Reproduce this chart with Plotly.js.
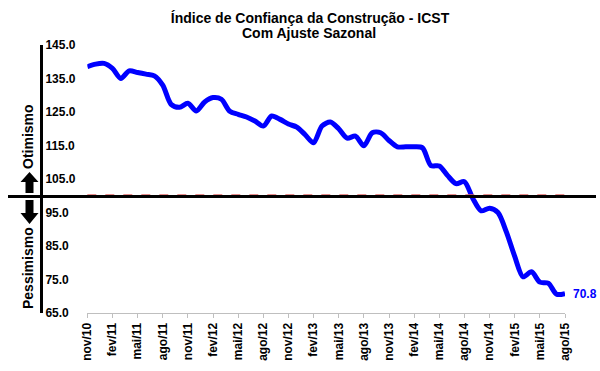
<!DOCTYPE html>
<html>
<head>
<meta charset="utf-8">
<script src="https://cdn.plot.ly/plotly-3.0.1.min.js"></script>
<style>html,body{margin:0;padding:0;background:#fff;}#chart{width:600px;height:371px;}</style>
</head>
<body>
<div id="chart"></div>
<script>
var months = [
  "nov/10","dez/10","jan/11","fev/11","mar/11","abr/11","mai/11","jun/11","jul/11","ago/11","set/11","out/11",
  "nov/11","dez/11","jan/12","fev/12","mar/12","abr/12","mai/12","jun/12","jul/12","ago/12","set/12","out/12",
  "nov/12","dez/12","jan/13","fev/13","mar/13","abr/13","mai/13","jun/13","jul/13","ago/13","set/13","out/13",
  "nov/13","dez/13","jan/14","fev/14","mar/14","abr/14","mai/14","jun/14","jul/14","ago/14","set/14","out/14",
  "nov/14","dez/14","jan/15","fev/15","mar/15","abr/15","mai/15","jun/15","jul/15","ago/15"
];
var icst = [
  138.5,139.3,139.5,138.0,135.0,137.3,136.8,136.3,135.8,133.0,127.3,126.4,
  127.6,125.3,128.0,129.3,128.8,125.2,124.3,123.5,122.3,120.8,123.8,122.8,
  121.4,120.5,118.2,115.8,120.8,122.0,120.0,117.2,117.8,114.9,118.8,118.8,
  116.5,114.6,114.6,114.6,114.3,109.0,108.9,106.0,103.6,104.2,99.2,95.5,
  96.3,95.0,89.2,81.9,75.8,77.3,74.2,73.9,70.6,70.8
];
var tickLabels = months.filter(function(m, i){ return i % 3 === 0; });
var neutral = 100;
var yTicks = [65,75,85,95,105,115,125,135,145];

var W = 600, plotTop = 45, plotBottom = 313;
function px(p){ return p / W; }
function py(p){ return (plotBottom - p) / (plotBottom - plotTop); }
function pathOf(pts){
  return 'M' + pts.map(function(q){ return px(q[0]) + ',' + py(q[1]); }).join(' L') + ' Z';
}

var FONT = 'Liberation Sans, Arial, sans-serif';

var trace = {
  x: months, y: icst, type: 'scatter', mode: 'lines',
  line: {color: '#0000ff', width: 5, shape: 'spline', smoothing: 0.8},
  cliponaxis: false, hoverinfo: 'x+y'
};

var layout = {
  width: 600, height: 371,
  margin: {l: 0, r: 0, t: plotTop, b: 371 - plotBottom, pad: 0},
  paper_bgcolor: '#ffffff', plot_bgcolor: '#ffffff',
  showlegend: false,
  title: {
    text: '<b>Índice de Confiança da Construção - ICST</b>',
    font: {family: FONT, size: 14, color: '#000'},
    x: 310 / W, xanchor: 'center', xref: 'container',
    y: 1 - 18 / 371, yanchor: 'middle', yref: 'container'
  },
  xaxis: {
    type: 'category', domain: [87.3 / W, 565 / W], range: [0, months.length - 1],
    tickmode: 'array', tickvals: tickLabels, ticktext: tickLabels, tickangle: -90,
    tickfont: {family: FONT, size: 12, color: '#000', weight: 'bold'},
    showline: true, linecolor: '#bfbfbf', linewidth: 1,
    ticks: 'outside', ticklen: 4, tickcolor: '#bfbfbf', tickwidth: 1,
    showgrid: false, zeroline: false, anchor: 'y', fixedrange: true
  },
  yaxis: {
    range: [65, 145], tickmode: 'array', tickvals: yTicks,
    ticktext: yTicks.map(function(v){ return v.toFixed(1); }),
    anchor: 'free', position: 41 / W, side: 'right',
    showline: true, linecolor: '#000', linewidth: 3,
    ticks: '', showgrid: false, zeroline: false,
    tickfont: {family: FONT, size: 12, color: '#000', weight: 'bold'},
    fixedrange: true
  },
  shapes: [
    {type: 'line', xref: 'x domain', x0: 0, x1: 1.008, yref: 'y', y0: neutral + 0.25, y1: neutral + 0.25,
     line: {color: '#e06666', width: 1.5, dash: 'dash'}},
    {type: 'line', xref: 'paper', x0: px(8), x1: px(596), yref: 'y', y0: neutral - 0.2, y1: neutral - 0.2,
     line: {color: '#000', width: 3}},
    {type: 'path', xref: 'paper', yref: 'paper', fillcolor: '#000', line: {width: 0},
     path: pathOf([[29.5,172],[38.5,182],[33.5,182],[33.5,193],[25.5,193],[25.5,182],[20.5,182]])},
    {type: 'path', xref: 'paper', yref: 'paper', fillcolor: '#000', line: {width: 0},
     path: pathOf([[29.5,224],[38.5,213],[33.5,213],[33.5,200],[25.5,200],[25.5,213],[20.5,213]])}
  ],
  annotations: [
    {text: '<b>Com Ajuste Sazonal</b>', xref: 'paper', yref: 'paper', x: px(309), y: py(33),
     xanchor: 'center', yanchor: 'middle', showarrow: false,
     font: {family: FONT, size: 14, color: '#000'}},
    {text: '<b>Otimismo</b>', xref: 'paper', yref: 'paper', x: px(28), y: py(137),
     textangle: -90, xanchor: 'center', yanchor: 'middle', showarrow: false,
     font: {family: FONT, size: 14, color: '#000'}},
    {text: '<b>Pessimismo</b>', xref: 'paper', yref: 'paper', x: px(28), y: py(268),
     textangle: -90, xanchor: 'center', yanchor: 'middle', showarrow: false,
     font: {family: FONT, size: 14, color: '#000'}},
    {text: '<b>' + icst[icst.length - 1].toFixed(1) + '</b>', xref: 'x', yref: 'y',
     x: months[months.length - 1], y: icst[icst.length - 1],
     xanchor: 'left', yanchor: 'middle', xshift: 6, showarrow: false,
     font: {family: FONT, size: 12, color: '#0000ff'}}
  ]
};

Plotly.newPlot('chart', [trace], layout, {displayModeBar: false, staticPlot: true});
</script>
</body>
</html>
